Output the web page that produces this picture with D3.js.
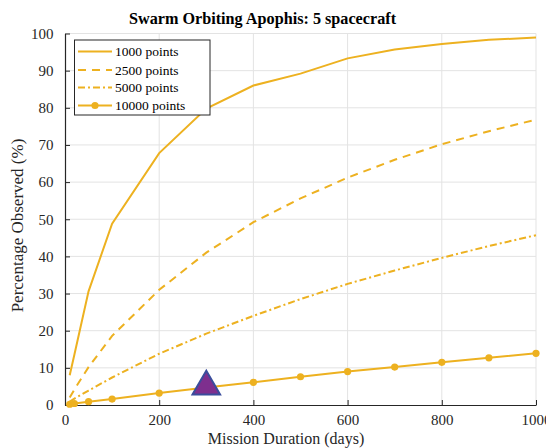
<!DOCTYPE html>
<html><head><meta charset="utf-8">
<script src="https://cdn.jsdelivr.net/npm/d3@7"></script>
<style>
html,body{margin:0;padding:0;background:#fff;}
text{font-family:"Liberation Serif","Times New Roman",serif;}
</style></head>
<body>
<svg id="chart" width="546" height="448"></svg>
<script>
const days = [10, 20, 50, 100, 200, 300, 400, 500, 600, 700, 800, 900, 1000];
const pts1000  = [8.0, 13.6, 30.6, 48.8, 67.8, 79.8, 86.0, 89.2, 93.3, 95.7, 97.2, 98.3, 98.9];
const pts2500  = [2.0, 4.2, 10.2, 18.6, 31.0, 41.0, 49.2, 55.6, 61.2, 66.0, 70.2, 73.7, 76.8];
const pts5000  = [0.9, 1.7, 3.9, 7.4, 13.8, 19.2, 24.0, 28.5, 32.6, 36.2, 39.6, 42.8, 45.7];
const pts10000 = [0.2, 0.4, 0.9, 1.6, 3.2, 4.7, 6.1, 7.6, 9.0, 10.2, 11.5, 12.7, 13.9];
const seriesNames = ["1000 points", "2500 points", "5000 points", "10000 points"];
const xTicks = [0, 200, 400, 600, 800, 1000];
const yTicks = [0, 10, 20, 30, 40, 50, 60, 70, 80, 90, 100];
const markerPoint = {day: 300, value: 5.5};

const color = "#EDB120";
const svg = d3.select("#chart");
const x = d3.scaleLinear().domain([0, 1000]).range([65, 536]);
const y = d3.scaleLinear().domain([0, 100]).range([405, 33.5]);

// grid
const g = svg.append("g");
g.selectAll(".vg").data(xTicks.slice(1)).enter().append("line")
  .attr("x1", d => x(d)).attr("x2", d => x(d)).attr("y1", y(0)).attr("y2", y(100))
  .attr("stroke", "#e3e3e3").attr("stroke-width", 1);
g.selectAll(".hg").data(yTicks.slice(1)).enter().append("line")
  .attr("x1", x(0)).attr("x2", x(1000)).attr("y1", d => y(d)).attr("y2", d => y(d))
  .attr("stroke", "#e3e3e3").attr("stroke-width", 1);

// axes
const fmt = d3.format("d");
const xAxis = d3.axisBottom(x).tickValues(xTicks).tickFormat(fmt).tickSizeInner(-5).tickSizeOuter(0).tickPadding(9.5);
const yAxis = d3.axisLeft(y).tickValues(yTicks).tickFormat(fmt).tickSizeInner(-5).tickSizeOuter(0).tickPadding(11.5);
const gx = svg.append("g").attr("transform", `translate(0,${y(0)})`).call(xAxis);
const gy = svg.append("g").attr("transform", `translate(${x(0)},0)`).call(yAxis);
[gx, gy].forEach(a => {
  a.select(".domain").attr("stroke", "#262626").attr("stroke-width", 1.2);
  a.selectAll(".tick line").attr("stroke", "#262626");
  a.selectAll(".tick text").attr("fill", "#262626").style("font-size", "15px")
    .style("font-family", "'Liberation Serif', serif");
});

// lines
const series = [
  {vals: pts1000, dash: null, marker: false},
  {vals: pts2500, dash: "8,6", marker: false},
  {vals: pts5000, dash: "7,3,2,3", marker: false},
  {vals: pts10000, dash: null, marker: true}
];
const line = d3.line().x(d => x(d[0])).y(d => y(d[1]));
series.forEach(s => {
  const data = days.map((d, i) => [d, s.vals[i]]);
  svg.append("path").datum(data).attr("d", line)
    .attr("fill", "none").attr("stroke", color).attr("stroke-width", 2)
    .attr("stroke-dasharray", s.dash);
  if (s.marker) {
    svg.selectAll(null).data(data).enter().append("circle")
      .attr("cx", d => x(d[0])).attr("cy", d => y(d[1])).attr("r", 3.6)
      .attr("fill", color);
  }
});

// triangle marker
const tri = d3.symbol().type(d3.symbolTriangle).size(330);
svg.append("path").attr("d", tri)
  .attr("transform", `translate(${x(markerPoint.day)},${y(markerPoint.value) + 2})`)
  .attr("fill", "#7E2F8E").attr("stroke", "#3A4D9C").attr("stroke-width", 2).attr("stroke-linejoin", "miter");

// legend
const lg = svg.append("g");
lg.append("rect").attr("x", 74.5).attr("y", 40).attr("width", 135.5).attr("height", 75)
  .attr("fill", "#fff").attr("stroke", "#262626").attr("stroke-width", 1);
const rowsY = [51.5, 70, 87.5, 105.5];
series.forEach((s, i) => {
  lg.append("line").attr("x1", 78).attr("x2", 112).attr("y1", rowsY[i]).attr("y2", rowsY[i])
    .attr("stroke", color).attr("stroke-width", 2).attr("stroke-dasharray", s.dash);
  if (s.marker) lg.append("circle").attr("cx", 95).attr("cy", rowsY[i]).attr("r", 3.6).attr("fill", color);
  lg.append("text").attr("x", 115).attr("y", rowsY[i] + 4.5).text(seriesNames[i])
    .style("font-size", "13.5px").attr("fill", "#000");
});

// title & labels
svg.append("text").attr("x", 262.5).attr("y", 24).attr("text-anchor", "middle")
  .style("font-size", "16.2px").style("font-weight", "bold").attr("fill", "#000")
  .text("Swarm Orbiting Apophis: 5 spacecraft");
svg.append("text").attr("x", 286).attr("y", 443.5).attr("text-anchor", "middle")
  .style("font-size", "16px").attr("fill", "#262626").text("Mission Duration (days)");
svg.append("text").attr("transform", "translate(23,225.5) rotate(-90)").attr("text-anchor", "middle")
  .style("font-size", "17px").attr("fill", "#262626").text("Percentage Observed (%)");
</script>
</body></html>
